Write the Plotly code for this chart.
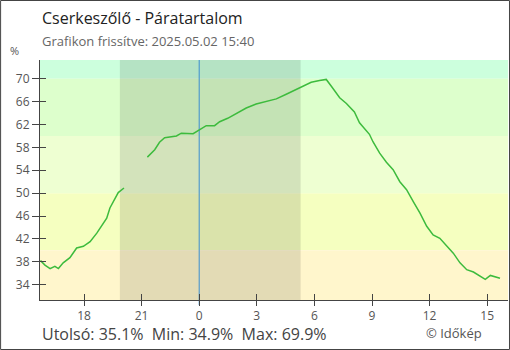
import plotly.graph_objects as go

# ---- data ----
seg1_times = ["15:44", "15:58", "16:14", "16:29", "16:40", "16:55", "17:16", "17:37", "17:58",
              "18:19", "18:40", "18:55", "19:11", "19:21", "19:32", "19:47", "20:05"]
seg1_vals = [38.2, 37.4, 36.8, 37.2, 36.8, 37.8, 38.7, 40.4, 40.7,
             41.5, 43.0, 44.2, 45.6, 47.4, 48.5, 50.1, 50.9]

seg2_day1_times = ["21:18", "21:41", "21:56", "22:12", "22:49", "23:04", "23:41"]
seg2_day1_vals = [56.3, 57.6, 58.9, 59.7, 60.0, 60.5, 60.4]

seg2_day2_times = ["00:00", "00:22", "00:48", "01:04", "01:29", "01:50", "02:27", "02:58", "03:29",
                   "04:01", "04:32", "05:14", "05:50", "06:16", "06:37", "06:53", "07:19", "07:40",
                   "08:05", "08:21", "08:52", "09:03", "09:24", "09:45", "10:06", "10:27", "10:48",
                   "11:09", "11:30", "11:51", "12:11", "12:32", "12:53", "13:14", "13:35", "13:56",
                   "14:17", "14:38", "14:54", "15:10", "15:25", "15:40"]
seg2_day2_vals = [61.1, 61.8, 61.8, 62.5, 63.1, 63.8, 64.9, 65.6, 66.0,
                  66.5, 67.3, 68.5, 69.4, 69.7, 69.9, 68.7, 66.7, 65.7,
                  64.2, 62.3, 60.3, 59.0, 57.0, 55.4, 54.1, 52.0, 50.6,
                  48.5, 46.5, 44.2, 42.7, 42.1, 40.8, 39.5, 37.8, 36.6,
                  36.2, 35.4, 34.9, 35.6, 35.3, 35.1]

day1 = "2025-05-01"
day2 = "2025-05-02"
x_range = [day1 + " 15:42:30", day2 + " 16:05"]
y_range = [31.3, 73.3]
y_ticks = [34, 38, 42, 46, 50, 54, 58, 62, 66, 70]
night = [day1 + " 19:52", day2 + " 05:17"]
midnight = day2 + " 00:00"
bands = [(70, 80, "#ccffdd"), (60, 70, "#ddffcc"), (50, 60, "#eeffd2"),
         (40, 50, "#f5ffc0"), (20, 40, "#fff6cc")]

title = "Cserkeszőlő - Páratartalom"
subtitle = "Grafikon frissítve: 2025.05.02 15:40"
stats = "Utolsó: 35.1%  Min: 34.9%  Max: 69.9%"
credit = "© Időkép"

xs = ([day1 + " " + t for t in seg1_times] + [None]
      + [day1 + " " + t for t in seg2_day1_times]
      + [day2 + " " + t for t in seg2_day2_times])
ys = seg1_vals + [None] + seg2_day1_vals + seg2_day2_vals

FONT = "Open Sans"
fig = go.Figure()
fig.add_trace(go.Scatter(x=xs, y=ys, mode="lines", line=dict(color="#3dbb3d", width=1.5),
                         connectgaps=False, hoverinfo="skip", showlegend=False))
# invisible trace for the inside-tick overlay axes
fig.add_trace(go.Scatter(x=[x_range[0]], y=[y_range[0]], xaxis="x2", yaxis="y2", mode="markers",
                         marker=dict(opacity=0), showlegend=False, hoverinfo="skip"))

shapes = []
for y0, y1, c in bands:
    shapes.append(dict(type="rect", xref="paper", yref="y", x0=0, x1=1, y0=y0, y1=y1,
                       fillcolor=c, line_width=0, layer="below"))
shapes.append(dict(type="rect", xref="x", yref="paper", x0=night[0], x1=night[1], y0=0, y1=1,
                   fillcolor="rgba(0,0,0,0.11)", line_width=0, layer="below"))
shapes.append(dict(type="line", xref="x", yref="paper", x0=midnight, x1=midnight, y0=-0.021, y1=1,
                   line=dict(color="#3a8fd0", width=1), layer="below"))
# outer frame of the picture
shapes.append(dict(type="rect", xref="paper", yref="paper", x0=-0.0842, x1=1.0032, y0=-0.2063, y1=1.2479,
                   line=dict(color="#444", width=1), fillcolor="rgba(0,0,0,0)"))

axis_common = dict(showgrid=False, zeroline=False, showline=True, linecolor="#444", linewidth=1)
fig.update_layout(
    width=510, height=350,
    margin=dict(l=40, r=2, t=60, b=50),
    paper_bgcolor="white", plot_bgcolor="white",
    font=dict(family=FONT, color="#555"),
    shapes=shapes,
    xaxis=dict(type="date", range=x_range, tickformat="%-H", dtick=3 * 3600 * 1000,
               tick0=day2 + " 00:00", ticks="outside", ticklen=5, tickcolor="#444",
               tickfont=dict(size=12, color="#555"), **axis_common),
    yaxis=dict(range=y_range, tickvals=y_ticks, ticks="outside", ticklen=7, tickcolor="#444",
               tickfont=dict(size=12, color="#555"), **axis_common),
    xaxis2=dict(type="date", range=x_range, overlaying="x", dtick=3 * 3600 * 1000,
                tick0=day2 + " 00:00", ticks="inside", ticklen=6, tickcolor="#444",
                showticklabels=False, showgrid=False, zeroline=False, showline=False),
    yaxis2=dict(range=y_range, overlaying="y", tickvals=y_ticks, ticks="inside", ticklen=6,
                tickcolor="#444", showticklabels=False, showgrid=False, zeroline=False,
                showline=False, side="left"),
    annotations=[
        dict(text=title, xref="paper", yref="paper", x=0, y=1.175, xanchor="left", yanchor="middle",
             showarrow=False, font=dict(size=16, color="#222")),
        dict(text=subtitle, xref="paper", yref="paper", x=0, y=1.079, xanchor="left", yanchor="middle",
             showarrow=False, font=dict(size=13, color="#666")),
        dict(text="%", xref="paper", yref="paper", x=-0.0555, y=1.0375, xanchor="center",
             yanchor="middle", showarrow=False, font=dict(size=11, color="#555")),
        dict(text=stats, xref="paper", yref="paper", x=0, y=-0.142, xanchor="left", yanchor="middle",
             showarrow=False, font=dict(size=16, color="#444")),
        dict(text=credit, xref="paper", yref="paper", x=0.821, y=-0.136, xanchor="left",
             yanchor="middle", showarrow=False, font=dict(size=13, color="#555")),
    ],
)
fig.write_html("out.html")
